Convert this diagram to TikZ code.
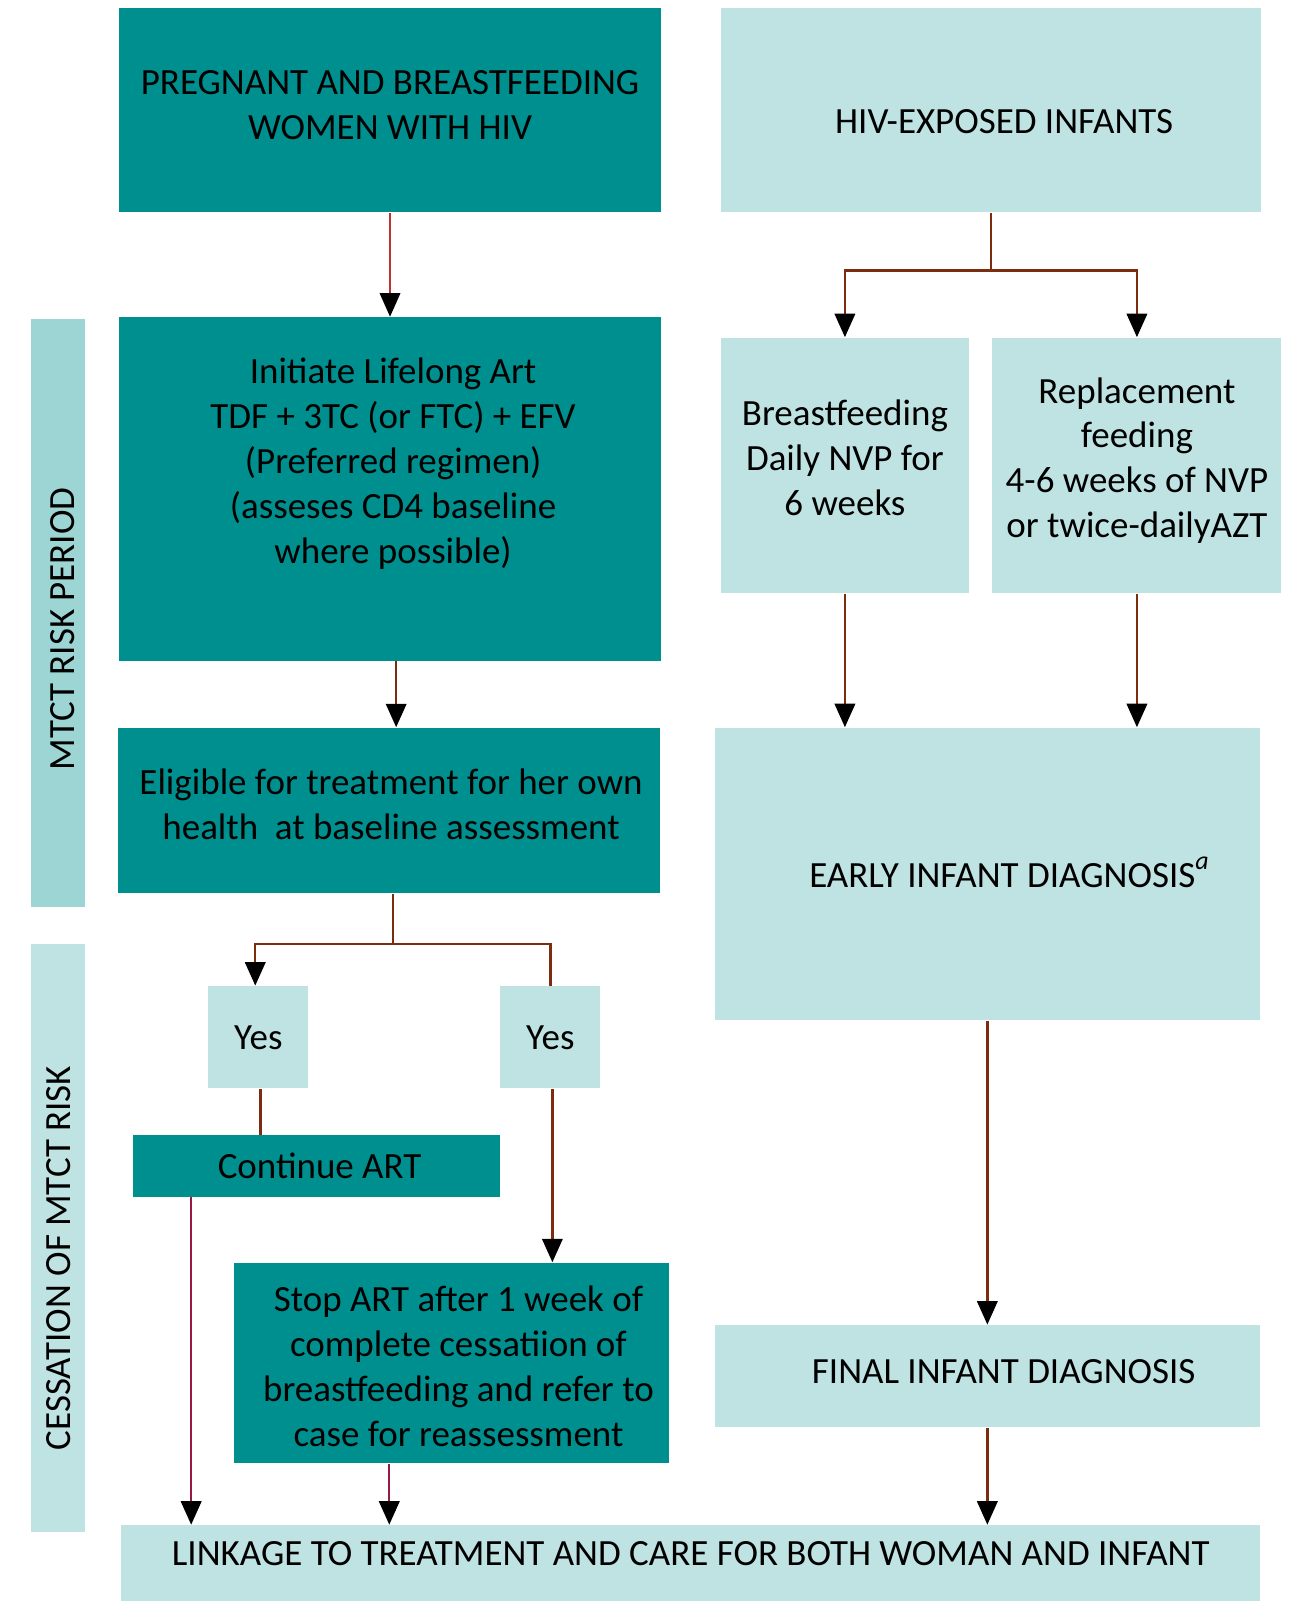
\documentclass[tikz,border=0pt]{standalone}
\usepackage{fontspec}
\setmainfont{Carlito}
\usetikzlibrary{arrows.meta,positioning}
\definecolor{tealdark}{RGB}{0,143,143}
\definecolor{teallight}{RGB}{191,227,227}
\definecolor{tealside}{RGB}{157,213,213}
\definecolor{linkbrown}{RGB}{125,45,15}
\definecolor{linkred}{RGB}{190,50,45}
\definecolor{linkplum}{RGB}{150,25,70}
\newcommand{\boxfont}{\fontsize{10.3}{12.5}\selectfont}
\tikzset{
    darkbox/.style={fill=tealdark, inner sep=0pt, align=center, font=\boxfont},
    lightbox/.style={fill=teallight, inner sep=0pt, align=center, font=\boxfont},
    boxtext/.style={inner sep=0pt, align=center, font=\boxfont},
    sidebar/.style={inner sep=0pt, minimum width=0.53cm, minimum height=5.75cm},
    sidetext/.style={rotate=90, inner sep=0pt, font=\boxfont},
    flow/.style={draw=linkbrown, line width=0.65pt, -{Triangle[length=0.23cm, width=0.2cm, color=black]}},
    plainlink/.style={draw=linkbrown, line width=0.65pt}
}
\begin{document}
\begin{tikzpicture}[x=0.01cm, y=-0.01cm]
    \useasboundingbox (0,0) rectangle (1264,1568);

    \node[sidebar, fill=tealside] (riskbar) at (56.5,600.5) {};
    \node[sidetext] (risktext) at (61,616) {MTCT RISK PERIOD};
    \node[sidebar, fill=teallight] (cessbar) at (56.5,1212.5) {};
    \node[sidetext] (cesstext) at (57,1232) {CESSATION OF MTCT RISK};

    \node[darkbox, minimum width=5.30cm, minimum height=2.00cm,
        label={[boxtext, yshift=0.05cm]center:{PREGNANT AND BREASTFEEDING\\WOMEN WITH HIV}}] (women) at (382,108) {};
    \node[lightbox, minimum width=5.29cm, minimum height=2.00cm,
        label={[boxtext, xshift=0.13cm, yshift=-0.11cm]center:HIV-EXPOSED INFANTS}] (infants) at (970.5,108) {};
    \node[darkbox, minimum width=5.30cm, minimum height=3.36cm,
        label={[boxtext, xshift=0.03cm, yshift=0.25cm]center:{Initiate Lifelong Art\\TDF + 3TC (or FTC) + EFV\\(Preferred regimen)\\(asseses CD4 baseline\\where possible)}}] (init) at (382,479) {};
    \node[lightbox, minimum width=2.43cm, minimum height=2.50cm,
        label={[boxtext, yshift=0.08cm]center:{Breastfeeding\\Daily NVP for\\6 weeks}}] (bfeed) at (827.5,456) {};
    \node[lightbox, minimum width=2.83cm, minimum height=2.50cm,
        label={[boxtext, yshift=0.05cm]center:{Replacement\\feeding\\4-6 weeks of NVP\\or twice-dailyAZT}}] (repl) at (1113.5,456) {};
    \node[darkbox, minimum width=5.30cm, minimum height=1.62cm,
        label={[boxtext, xshift=0.02cm, yshift=0.06cm]center:{Eligible for treatment for her own\\health~ at baseline assessment}}] (elig) at (381,794) {};
    \node[lightbox, minimum width=5.34cm, minimum height=2.86cm,
        label={[boxtext, xshift=0.22cm, yshift=0.02cm]center:EARLY INFANT DIAGNOSIS\raisebox{0.05cm}{\textsuperscript{\textit{a}}}}] (early) at (967,856) {};
    \node[lightbox, minimum width=0.98cm, minimum height=1.00cm] (yesA) at (253,1016) {Yes};
    \node[lightbox, minimum width=0.98cm, minimum height=1.00cm] (yesB) at (539,1016) {\raisebox{-0.04cm}{Yes}};
    \node[darkbox, minimum width=3.60cm, minimum height=0.60cm,
        label={[boxtext, xshift=0.03cm]center:Continue ART}] (cont) at (310,1142) {};
    \node[darkbox, minimum width=4.26cm, minimum height=1.96cm,
        label={[boxtext, xshift=0.07cm, yshift=-0.03cm]center:{Stop ART after 1 week of\\complete cessatiion of\\breastfeeding and refer to\\case for reassessment}}] (stop) at (442,1335) {};
    \node[lightbox, minimum width=5.34cm, minimum height=1.00cm,
        label={[boxtext, xshift=0.16cm, yshift=0.05cm]center:FINAL INFANT DIAGNOSIS}] (final) at (967,1348) {};
    \node[lightbox, minimum width=11.15cm, minimum height=0.74cm,
        label={[boxtext, yshift=0.09cm]center:LINKAGE TO TREATMENT AND CARE FOR BOTH WOMAN AND INFANT}] (link) at (676.5,1531) {};

    \draw[flow, draw=linkred, line width=0.5pt] (women) -- (init);
    \draw[flow] ([xshift=0.06cm]init.south) -- ([xshift=0.06cm]init.south |- elig.north);
    \draw[flow] ([xshift=0.04cm]elig.south) -- ++(0,49) -| ([xshift=-0.03cm]yesA.north);
    \draw[plainlink] ([xshift=0.04cm]elig.south) -- ++(0,49) -| (yesB.north);
    \draw[plainlink] ([xshift=0.02cm]yesA.south) -- ([xshift=0.02cm]yesA.south |- cont.north);
    \draw[flow] ([xshift=0.02cm]yesB.south) -- ([xshift=0.02cm]yesB.south |- stop.north);
    \coordinate (contout) at ([xshift=0.58cm]cont.south west);
    \draw[flow, draw=linkplum] (contout) -- (contout |- link.north);
    \coordinate (stopout) at ([xshift=1.53cm]stop.south west);
    \draw[flow, draw=linkplum] (stopout) -- (stopout |- link.north);

    \draw[flow] (infants.south) -- ++(0,56) -| (bfeed.north);
    \draw[flow] (infants.south) -- ++(0,56) -| (repl.north);
    \draw[flow] (bfeed.south) -- (bfeed.south |- early.north);
    \draw[flow] (repl.south) -- (repl.south |- early.north);
    \draw[flow] (early) -- (final);
    \draw[flow] (final.south) -- (final.south |- link.north);
\end{tikzpicture}
\end{document}
